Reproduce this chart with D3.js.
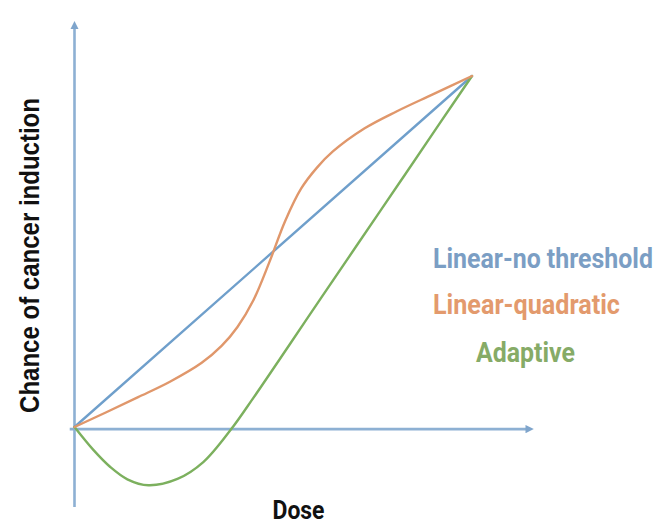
<!DOCTYPE html>
<html><head><meta charset="utf-8">
<script src="https://cdn.jsdelivr.net/npm/d3@7"></script>
<style>html,body{margin:0;padding:0;background:#fff;}svg{display:block;}</style>
</head><body>
<svg id="chart" width="670" height="532"></svg>
<script>
// Dose (0-100 relative) vs chance of cancer induction (relative units)
const linearDose = [0, 100];
const linearChance = [0, 100];
const quadDose =   [0, 8, 16, 24, 32, 37, 41, 45, 49, 53, 57, 61, 65, 73, 81, 90, 100];
const quadChance = [0, 4.2, 8.5, 12.9, 18.3, 23.1, 28.5, 36.1, 46.9, 58.7, 67.9, 73.9, 78.5, 85.1, 89.9, 94.7, 100];
const adaptDose =   [0, 4.8, 9, 13.3, 18.6, 25.9, 32.4, 39.3, 45, 54, 62, 71, 82, 92, 100];
const adaptChance = [0, -6.6, -11.4, -14.9, -16.6, -14.8, -10.0, -0.8, 8.3, 23.3, 36.7, 51.7, 70, 86.7, 100];
const seriesNames = ["Linear-no threshold", "Linear-quadratic", "Adaptive"];
const seriesColors = ["#6f9fcb", "#e0976b", "#7cb05e"];
const labelColors = ["#7b9ec4", "#e39a6d", "#86ab67"];
const xAxisTitle = "Dose";
const yAxisTitle = "Chance of cancer induction";

const svg = d3.select("#chart");
const x = d3.scaleLinear().domain([0, 100]).range([74.5, 472]);
const y = d3.scaleLinear().domain([0, 100]).range([427, 76]);

// arrow marker
const defs = svg.append("defs");
defs.append("marker").attr("id", "arr").attr("viewBox", "0 0 10 10")
  .attr("refX", 5).attr("refY", 5).attr("markerWidth", 3.2).attr("markerHeight", 3.2)
  .attr("orient", "auto")
  .append("path").attr("d", "M0,0 L10,5 L0,10 Z").attr("fill", "#7fa5cc");

const axisColor = "#8db0d3";
// x axis
svg.append("line").attr("x1", x(-1.2)).attr("x2", x(114.5))
  .attr("y1", y(-0.6)).attr("y2", y(-0.6))
  .attr("stroke", axisColor).attr("stroke-width", 2.6).attr("marker-end", "url(#arr)");
// y axis
svg.append("line").attr("x1", x(0)).attr("x2", x(0))
  .attr("y1", y(-22.8)).attr("y2", y(114.5))
  .attr("stroke", axisColor).attr("stroke-width", 2.6).attr("marker-end", "url(#arr)");

const line = d3.line().x(d => x(d[0])).y(d => y(d[1])).curve(d3.curveCatmullRom.alpha(0.5));
const data = [
  d3.zip(linearDose, linearChance),
  d3.zip(quadDose, quadChance),
  d3.zip(adaptDose, adaptChance)
];
// draw order: linear, adaptive, quadratic
[0, 2, 1].forEach(i => {
  svg.append("path").datum(data[i]).attr("d", line)
    .attr("fill", "none").attr("stroke", seriesColors[i]).attr("stroke-width", 2.4)
    .attr("stroke-linejoin", "round").attr("stroke-linecap", "round");
});

// condensed-looking text: horizontal scale to target width
function condensed(sel, px, py, target, rot) {
  const w = sel.node().getComputedTextLength();
  const s = target / w;
  sel.attr("transform", `translate(${px},${py})` + (rot ? ` rotate(${rot})` : "") + ` scale(${s},1)`);
}

// legend-like labels
const labelPos = [[433, 268, 220], [433, 314, 187], [476, 362, 99]];
seriesNames.forEach((n, i) => {
  const t = svg.append("text").attr("x", 0).attr("y", 0)
    .attr("font-family", "Roboto, 'Liberation Sans', sans-serif").attr("font-weight", 700)
    .attr("font-size", 28).attr("fill", labelColors[i]).text(n);
  condensed(t, labelPos[i][0], labelPos[i][1], labelPos[i][2]);
});

// axis titles
const xt = svg.append("text").attr("text-anchor", "middle")
  .attr("font-family", "Roboto, 'Liberation Sans', sans-serif").attr("font-weight", 700)
  .attr("font-size", 25).attr("fill", "#111").text(xAxisTitle);
condensed(xt, 298.5, 519, 52);
const yt = svg.append("text").attr("text-anchor", "middle")
  .attr("font-family", "'Liberation Sans Narrow', 'Liberation Sans', Arial, sans-serif").attr("font-weight", 700)
  .attr("font-size", 28.5).attr("fill", "#111").text(yAxisTitle);
condensed(yt, 38.5, 255.5, 315, -90);
</script>
</body></html>
